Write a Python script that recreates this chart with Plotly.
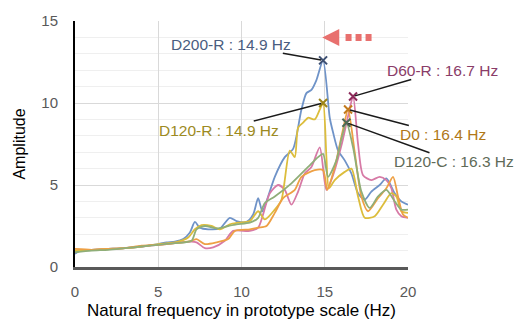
import plotly.graph_objects as go

# ---------------- data ----------------
d200r_f = [0, 0.3, 1, 2, 3, 4, 5, 5.5, 6, 6.5, 6.9, 7.2, 7.5, 8, 8.7, 9.3, 9.7, 10.3, 10.7, 11.0, 11.25, 11.5,
           12.0, 12.6, 13.1, 13.6, 13.9, 14.2, 14.5, 14.9, 15.3, 15.5, 15.8, 16.2, 16.6, 17.0, 17.4, 17.8, 18.3,
           18.7, 19.2, 19.6, 20]
d200r_a = [0.8, 1.0, 1.05, 1.1, 1.15, 1.25, 1.4, 1.5, 1.55, 1.7, 2.1, 2.75, 2.4, 2.3, 2.35, 3.0, 2.8, 2.75, 3.2, 4.2, 3.4, 4.0,
           5.5, 6.7, 7.2, 9.6, 10.6, 10.8, 11.4, 12.6, 9.1, 8.2, 7.1, 6.5, 5.7, 4.5, 4.1, 4.6, 5.0,
           5.4, 4.5, 4.0, 3.8]

d60r_f = [0, 1, 2, 3, 4, 5, 6, 7, 7.3, 7.8, 8.3, 9.0, 9.5, 10.5, 11.0, 11.7, 12.2, 12.6, 13.0, 13.4, 13.8, 14.2, 14.7,
          15.1, 15.5, 16.0, 16.4, 16.7, 17.0, 17.3, 17.8, 18.3, 18.7, 19.0, 19.3, 19.6, 20]
d60r_a = [1.0, 1.05, 1.1, 1.15, 1.25, 1.35, 1.45, 1.55, 1.5, 1.15, 1.2, 1.6, 2.2, 2.2, 2.4, 4.5, 5.0, 4.7, 3.8, 4.6, 5.7, 6.1, 7.3,
          4.7, 5.6, 7.4, 9.2, 10.4, 7.5, 5.6, 5.3, 5.5, 5.3, 4.8, 3.5, 3.1, 3.0]

d120r_f = [0, 1, 2, 3, 4, 5, 6, 6.8, 7.2, 7.6, 8.2, 8.7, 9.3, 9.8, 10.5, 11.0, 11.4, 12.0, 12.4, 12.9, 13.2, 13.4, 13.7,
           14.0, 14.4, 14.7, 14.9, 15.1, 15.25, 15.6, 16.2, 16.6, 17.0, 17.4, 18.0, 18.5, 19.0, 19.3, 19.6, 20]
d120r_a = [1.0, 1.05, 1.1, 1.15, 1.25, 1.4, 1.5, 1.8, 2.3, 2.55, 2.5, 2.3, 2.6, 2.7, 2.8, 3.4, 2.9, 3.5, 4.1, 7.1, 6.7, 8.5, 8.8,
           9.1, 9.0, 9.6, 10.0, 6.7, 4.8, 5.3, 5.8, 6.0, 4.3, 3.0, 3.1, 3.8, 4.5, 4.3, 3.4, 3.3]

d0_f = [0, 1, 2, 3, 4, 5, 6, 7, 7.3, 7.8, 8.5, 9.2, 9.6, 10.5, 11.0, 11.5, 12.0, 12.5, 13.2, 13.6, 14.4, 14.9,
        15.15, 15.6, 16.1, 16.4, 16.8, 17.2, 17.6, 18.2, 18.7, 19.1, 19.4, 19.7, 20]
d0_a = [1.1, 1.05, 1.1, 1.15, 1.3, 1.35, 1.45, 1.6, 1.7, 1.4, 1.5, 1.7, 2.2, 2.3, 2.4, 2.5, 3.3, 4.2, 4.7, 5.5, 5.9, 5.9,
        4.7, 6.1, 8.4, 9.6, 7.0, 4.3, 3.4, 4.2, 4.8, 5.5, 4.3, 3.2, 3.0]

d120c_f = [0, 1, 2, 3, 4, 5, 6, 7, 7.3, 7.8, 8.5, 9.2, 9.7, 10.5, 11.0, 11.4, 12.0, 13.0, 14.0, 14.6, 14.9,
           15.2, 15.7, 16.0, 16.3, 16.7, 17.2, 17.7, 18.2, 18.7, 19.2, 19.6, 20]
d120c_a = [0.9, 1.0, 1.05, 1.15, 1.25, 1.35, 1.45, 1.6, 2.3, 2.5, 2.35, 2.5, 2.6, 2.7, 3.0, 3.9, 4.3, 5.1, 6.1, 6.7, 6.9,
           5.5, 6.5, 7.8, 8.8, 7.3, 4.6, 3.6, 4.3, 4.7, 4.0, 3.5, 3.5]

peak_names = ["D200-R", "D60-R", "D120-R", "D0", "D120-C"]
peak_freq = [14.9, 16.7, 14.9, 16.4, 16.3]
peak_amp = [12.6, 10.4, 10.0, 9.6, 8.8]

x_ticks = [0, 5, 10, 15, 20]
y_ticks = [0, 5, 10, 15]

# ---------------- styles ----------------
series = [
    ("D200-R", d200r_f, d200r_a, "#6f93c8"),
    ("D60-R", d60r_f, d60r_a, "#d77aa6"),
    ("D120-R", d120r_f, d120r_a, "#dcbd3c"),
    ("D0", d0_f, d0_a, "#eea044"),
    ("D120-C", d120c_f, d120c_a, "#8fae78"),
]
marker_colors = ["#3d4f72", "#8c2a5a", "#9c8418", "#c27a1c", "#4d6a55"]
label_colors = ["#4a5d80", "#8a3c68", "#9c8a22", "#b07818", "#5f6b58"]
label_offsets = [(-92, -16), (89, -26), (-104, 27), (95, 25), (108, 39)]

fig = go.Figure()
for name, f, a, col in series:
    fig.add_trace(go.Scatter(x=f, y=a, mode="lines", name=name,
                             line=dict(color=col, width=1.8, shape="spline", smoothing=0.7),
                             hoverinfo="skip"))

for i in range(len(peak_names)):
    fig.add_trace(go.Scatter(x=[peak_freq[i]], y=[peak_amp[i]], mode="markers",
                             marker=dict(symbol="x-thin", size=8,
                                         line=dict(color=marker_colors[i], width=2)),
                             hoverinfo="skip"))
    ax, ay = label_offsets[i]
    fig.add_annotation(x=peak_freq[i], y=peak_amp[i], xref="x", yref="y",
                       text=f"{peak_names[i]} : {peak_freq[i]:.1f} Hz",
                       showarrow=True, arrowhead=0, arrowwidth=1.5, arrowcolor="#1a1a1a",
                       ax=ax, ay=ay, axref="pixel", ayref="pixel", standoff=2,
                       font=dict(family="Liberation Sans, Arial", size=15.5, color=label_colors[i]),
                       borderpad=0)

# red dotted arrow pointing to the shift toward lower frequency
fig.add_shape(type="line", x0=16.25, x1=17.85, y0=14.0, y1=14.0, xref="x", yref="y",
              line=dict(color="#e8706e", width=7, dash="6px,4px"))
fig.add_annotation(x=14.85, y=14.0, xref="x", yref="y", text="", showarrow=True,
                   arrowhead=2, arrowwidth=4, arrowsize=0.85, arrowcolor="#e8706e",
                   ax=18, ay=0, axref="pixel", ayref="pixel", standoff=0)

fig.update_layout(
    width=516, height=323,
    margin=dict(l=75, r=108, t=21, b=56, autoexpand=False),
    paper_bgcolor="white", plot_bgcolor="white",
    showlegend=False,
    font=dict(family="Liberation Sans, Arial", color="#000000"),
)
fig.update_xaxes(range=[0, 20], tickvals=x_ticks, ticks="", showgrid=True, gridcolor="#d9d9d9", gridwidth=1,
                 showline=True, linecolor="#595959", linewidth=2.5, zeroline=False, automargin=False,
                 tickfont=dict(size=15, color="#595959"), ticklabelstandoff=9,
                 title=dict(text="Natural frequency in prototype scale (Hz)", font=dict(size=17, color="#000000"),
                            standoff=6))
fig.update_yaxes(range=[0, 15], tickvals=y_ticks, ticks="", showgrid=True, gridcolor="#d9d9d9", gridwidth=1,
                 minor=dict(dtick=1, showgrid=True, gridcolor="#efefef", gridwidth=1),
                 showline=True, linecolor="#000000", linewidth=2, zeroline=False, automargin=False,
                 tickfont=dict(size=15, color="#595959"), ticklabelstandoff=12,
                 title=dict(text="Amplitude", font=dict(size=16, color="#000000"), standoff=12))

fig.write_html("out.html")
